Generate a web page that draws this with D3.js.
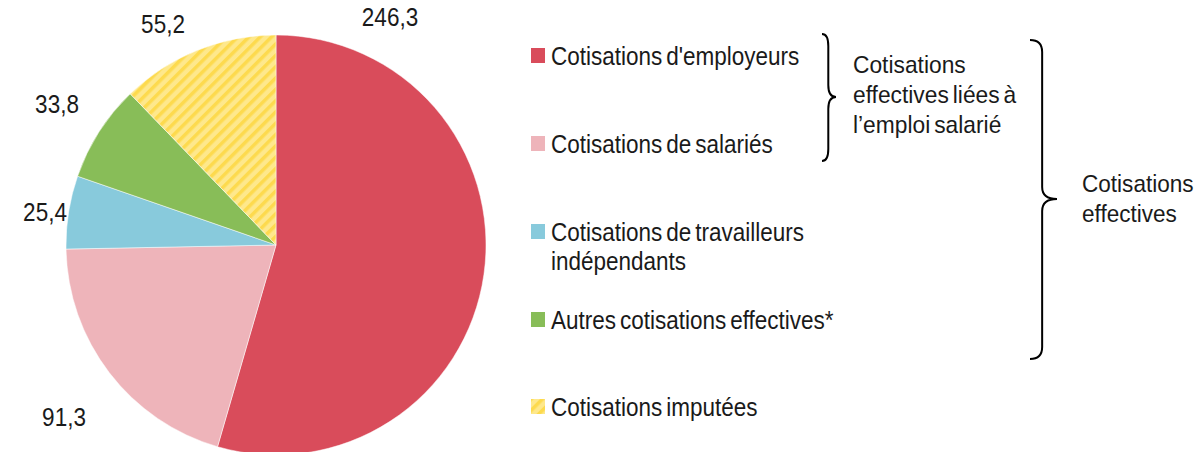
<!DOCTYPE html>
<html><head><meta charset="utf-8">
<script src="https://cdn.jsdelivr.net/npm/d3@7"></script>
<style>
html,body{margin:0;padding:0;background:#fff;}
text{font-family:"Liberation Sans Narrow","Liberation Sans",Arial,sans-serif;fill:#1a1a1a;}
</style></head>
<body>
<svg id="chart" width="1196" height="452"></svg>
<script>
// ---- data ----
const categories = ["Cotisations d'employeurs","Cotisations de salariés","Cotisations de travailleurs indépendants","Autres cotisations effectives*","Cotisations imputées"];
const values = [246.3, 91.3, 25.4, 33.8, 55.2];
const valueLabels = ["246,3","91,3","25,4","33,8","55,2"];
const legendLines = [["Cotisations d'employeurs"],["Cotisations de salariés"],["Cotisations de travailleurs","indépendants"],["Autres cotisations effectives*"],["Cotisations imputées"]];
const braceSmallText = ["Cotisations","effectives liées à","l\u2019emploi salarié"];
const braceBigText = ["Cotisations","effectives"];

// ---- layout (not data) ----
const colors = ["#D94C5B","#EEB4BA","#88CADC","#88BD58","url(#hatch)"];
const labelPos = [[390,26],[64,426],[45,221],[57,113],[163,33]];
const legendY = [56,144,232,320,407];

const svg = d3.select("#chart");
const defs = svg.append("defs");
const pat = defs.append("pattern").attr("id","hatch").attr("patternUnits","userSpaceOnUse")
  .attr("width",8).attr("height",8).attr("patternTransform","rotate(45)");
pat.append("rect").attr("width",8).attr("height",8).attr("fill","#FEE88C");
pat.append("rect").attr("width",3.5).attr("height",8).attr("fill","#FDDA4E");

function addText(parent, x, y, str, size, sx, anchor, ws){
  return parent.append("text")
    .attr("transform",`translate(${x},${y}) scale(${sx},1)`)
    .attr("font-size",size).attr("text-anchor",anchor||"start")
    .attr("word-spacing", ws||0).text(str);
}

const cx = 276, cy = 245, r = 210;
const pie = d3.pie().sort(null).value(d => d);
const arc = d3.arc().innerRadius(0).outerRadius(r);
const g = svg.append("g").attr("transform",`translate(${cx},${cy})`);
g.selectAll("path").data(pie(values)).join("path")
  .attr("d",arc).attr("fill",(d,i)=>colors[i])
  .attr("stroke","#fff").attr("stroke-width",0.5);

valueLabels.forEach((t,i)=>addText(svg, labelPos[i][0], labelPos[i][1], t, 25, 0.9, "middle"));

// legend
const lg = svg.append("g");
categories.forEach((c,i)=>{
  lg.append("rect").attr("x",531).attr("y",legendY[i]-8).attr("width",14).attr("height",15).attr("fill",colors[i]);
  legendLines[i].forEach((t,j)=>addText(lg, 551, legendY[i]+9+j*29, t, 25, 0.9, "start", -2.5));
});

function brace(x0,w,y0,y1,yt){
  const x1 = x0 + w*0.45, x2 = x0 + w, q = Math.min(12,(y1-y0)/8);
  return `M${x0},${y0} Q${x1},${y0} ${x1},${y0+q} L${x1},${yt-q} Q${x1},${yt} ${x2},${yt} Q${x1},${yt} ${x1},${yt+q} L${x1},${y1-q} Q${x1},${y1} ${x0},${y1}`;
}
svg.append("path").attr("d",brace(822,14,34,161,97)).attr("fill","none").attr("stroke","#000").attr("stroke-width",2);
svg.append("path").attr("d",brace(1030,27,40,359,199)).attr("fill","none").attr("stroke","#000").attr("stroke-width",2);

braceSmallText.forEach((t,j)=>addText(svg, 853, 73+j*30, t, 24, 0.95, "start", -2.5));
braceBigText.forEach((t,j)=>addText(svg, 1082, 192+j*30, t, 24, 0.94));
</script>
</body></html>
